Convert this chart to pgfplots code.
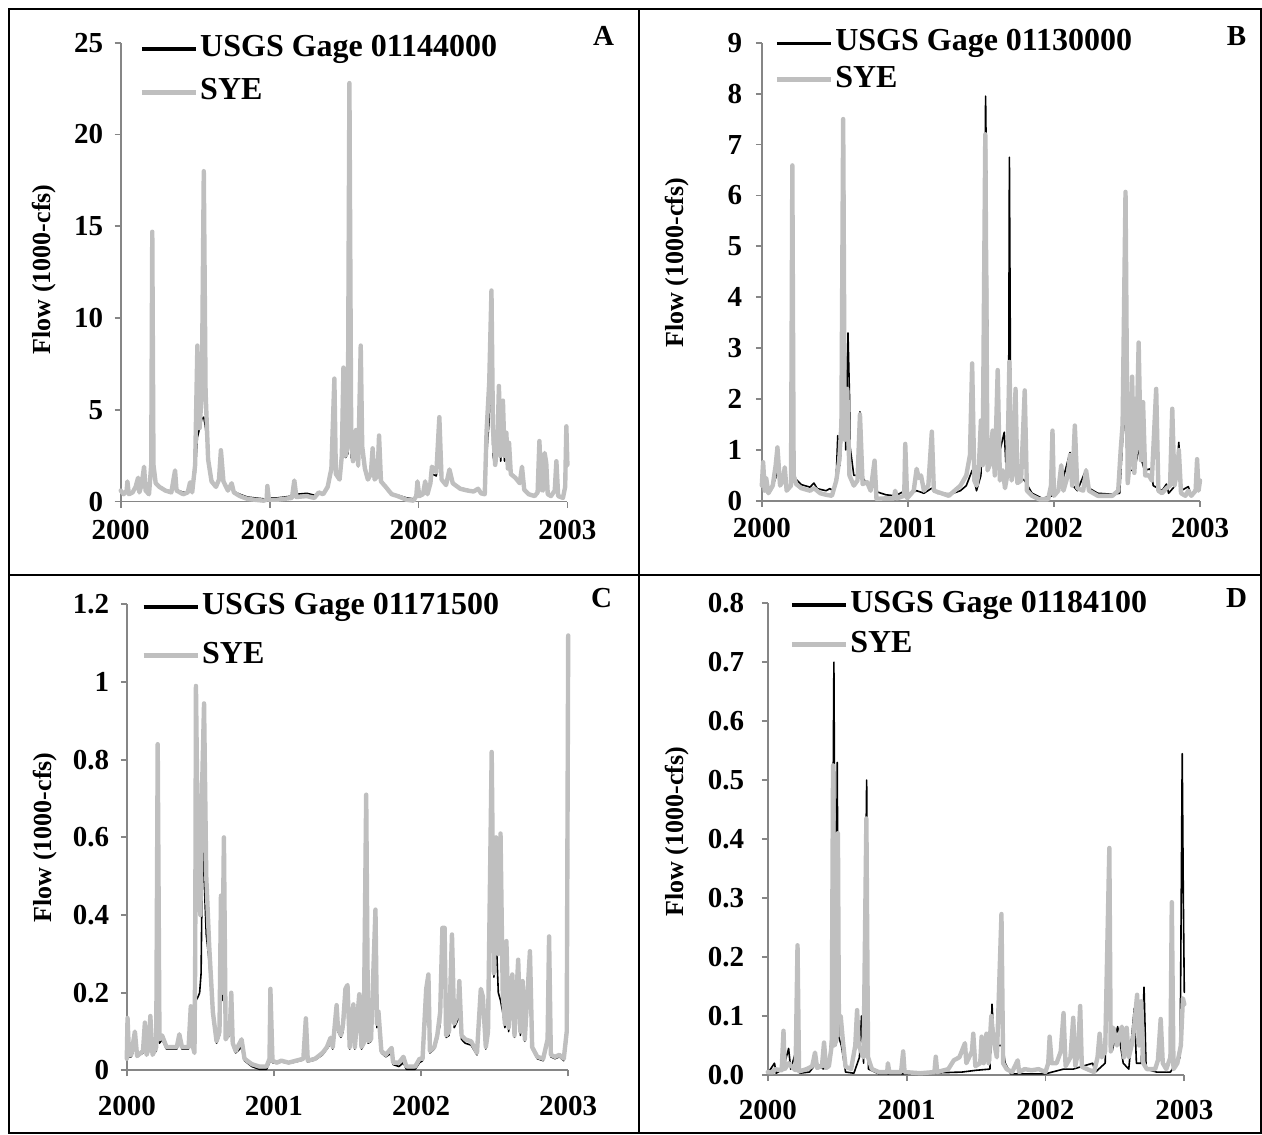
\documentclass[border=0pt]{standalone}
\usepackage{fontspec}
\setmainfont{Liberation Serif}
\usepackage{pgfplots}
\pgfplotsset{compat=1.18}
\definecolor{sye}{RGB}{191,191,191}
\definecolor{axgray}{RGB}{134,134,134}
\pgfplotsset{
  panel/.style={
    scale only axis, anchor=south west,
    xmin=2000, xmax=2003, ymin=0,
    axis x line*=bottom, axis y line*=left,
    axis line style={draw=axgray, line width=0.9pt, -},
    tick style={draw=axgray, line width=0.9pt},
    tick align=outside, major tick length=3pt,
    xtick={2000,2001,2002,2003}, xticklabels={2000,2001,2002,2003},
    ticklabel style={font=\fontsize{14.5}{14.5}\selectfont\bfseries},
    ylabel={Flow (1000-cfs)},
    ylabel style={font=\fontsize{13}{13}\selectfont\bfseries, anchor=center},
    legend style={draw=none, fill=none, anchor=north west,
      font=\fontsize{16}{16}\selectfont\bfseries, inner sep=0pt, column sep=1pt,
      nodes={inner sep=0pt, text height=11pt, text depth=3.5pt}, cells={anchor=west}},
    legend image code/.code={\draw[##1] (0pt,0pt) -- (27pt,0pt);},
    clip=false,
  },
  gage/.style={black, line width=0.8pt, line join=round, line cap=round},
  syeline/.style={sye, line width=2.2pt, line join=round, line cap=round},
}
\begin{document}
\begin{tikzpicture}
\useasboundingbox (0,0) rectangle (631pt,567pt);
% ---------------- Panel A
\begin{axis}[panel, at={(60.35pt,316.2pt)}, width=223.35pt, height=229.45pt,
  ymax=25, ytick={0,5,10,15,20,25}, yticklabels={0,5,10,15,20,25},
  yticklabel style={xshift=-2.3pt}, xticklabel style={yshift=-2.6pt},
  ylabel style={at={(axis description cs:-0.172,0.506)}},
  legend style={at={(axis description cs:0.041,1.019)}, row sep=7.25pt}]
\addlegendimage{black, line width=1.8pt}
\addlegendimage{sye, line width=2.4pt}
\addplot[gage, forget plot] coordinates {
(2000.000,0.6) (2000.020,0.45) (2000.040,0.6) (2000.045,0.9) (2000.055,0.5) (2000.080,0.55)
(2000.100,0.7) (2000.117,1.0) (2000.125,0.55) (2000.140,0.8) (2000.157,1.5) (2000.167,0.7)
(2000.190,0.5) (2000.205,1.5) (2000.212,9.0) (2000.220,1.8) (2000.235,1.0) (2000.260,0.85)
(2000.300,0.65) (2000.340,0.55) (2000.365,1.3) (2000.375,0.65) (2000.420,0.5) (2000.450,0.55)
(2000.466,0.9) (2000.480,0.6) (2000.500,1.5) (2000.515,3.5) (2000.530,4.0) (2000.545,4.5)
(2000.558,4.6) (2000.570,4.0) (2000.587,2.5) (2000.610,1.2) (2000.640,0.85) (2000.660,1.1)
(2000.673,2.2) (2000.690,1.1) (2000.720,0.65) (2000.745,0.9) (2000.760,0.55) (2000.800,0.4)
(2000.850,0.25) (2000.900,0.2) (2000.960,0.15) (2000.980,0.15) (2000.985,0.5) (2000.995,0.2)
(2001.050,0.2) (2001.100,0.25) (2001.150,0.3) (2001.166,0.8) (2001.180,0.4) (2001.250,0.45)
(2001.300,0.35) (2001.330,0.5) (2001.360,0.45) (2001.390,0.8) (2001.415,1.6) (2001.435,4.5)
(2001.445,1.5) (2001.470,1.2) (2001.485,2.2) (2001.496,5.0) (2001.510,2.4) (2001.525,2.6)
(2001.536,15.0) (2001.548,2.4) (2001.560,2.2) (2001.580,3.0) (2001.595,1.9) (2001.612,6.0)
(2001.622,2.5) (2001.640,1.7) (2001.660,1.2) (2001.680,1.4) (2001.692,2.2) (2001.705,1.2)
(2001.725,1.3) (2001.735,2.6) (2001.748,1.1) (2001.780,0.8) (2001.820,0.45) (2001.860,0.35)
(2001.920,0.2) (2001.966,0.15) (2001.985,0.3) (2001.993,0.7) (2002.005,0.35) (2002.030,0.4)
(2002.045,0.8) (2002.060,0.45) (2002.080,0.9) (2002.090,1.5) (2002.120,1.4) (2002.140,3.5)
(2002.155,1.2) (2002.185,0.9) (2002.208,1.4) (2002.230,1.0) (2002.280,0.75) (2002.330,0.65)
(2002.370,0.6) (2002.400,0.65) (2002.420,0.5) (2002.445,0.45) (2002.457,2.5) (2002.475,4.5)
(2002.490,8.0) (2002.500,2.5) (2002.515,2.0) (2002.530,2.5) (2002.540,4.5) (2002.552,2.2)
(2002.567,4.0) (2002.578,2.2) (2002.590,2.8) (2002.600,1.8) (2002.608,2.5) (2002.620,1.5)
(2002.650,1.3) (2002.680,1.0) (2002.695,1.5) (2002.710,0.7) (2002.740,0.45) (2002.780,0.35)
(2002.800,0.5) (2002.812,2.5) (2002.825,0.7) (2002.835,0.6) (2002.847,2.0) (2002.858,1.6)
(2002.868,0.45) (2002.890,0.35) (2002.915,0.55) (2002.926,1.6) (2002.938,0.35) (2002.970,0.25)
(2002.985,0.6) (2002.993,3.0) (2003.000,2.0)
};
\addplot[syeline, forget plot] coordinates {
(2000.000,0.6) (2000.020,0.4) (2000.040,0.6) (2000.045,1.1) (2000.055,0.4) (2000.080,0.5)
(2000.100,0.8) (2000.117,1.3) (2000.125,0.5) (2000.140,0.9) (2000.157,1.9) (2000.167,0.6)
(2000.190,0.4) (2000.205,2.0) (2000.212,14.7) (2000.220,2.0) (2000.235,1.0) (2000.260,0.8)
(2000.300,0.6) (2000.340,0.5) (2000.365,1.7) (2000.375,0.6) (2000.420,0.4) (2000.450,0.5)
(2000.466,1.05) (2000.480,0.5) (2000.500,2.0) (2000.515,8.5) (2000.530,4.0) (2000.545,6.0)
(2000.558,18.0) (2000.570,6.0) (2000.587,2.3) (2000.610,1.1) (2000.640,0.8) (2000.660,1.2)
(2000.673,2.8) (2000.690,1.1) (2000.720,0.6) (2000.745,1.0) (2000.760,0.5) (2000.800,0.3)
(2000.850,0.15) (2000.900,0.1) (2000.960,0.05) (2000.980,0.1) (2000.985,0.85) (2000.995,0.1)
(2001.050,0.1) (2001.100,0.15) (2001.150,0.2) (2001.166,1.15) (2001.180,0.25) (2001.250,0.3)
(2001.300,0.2) (2001.330,0.5) (2001.360,0.4) (2001.390,0.8) (2001.415,1.8) (2001.435,6.7)
(2001.445,1.5) (2001.470,1.2) (2001.485,2.5) (2001.496,7.3) (2001.510,2.5) (2001.525,3.0)
(2001.536,22.8) (2001.548,3.5) (2001.560,2.2) (2001.580,3.9) (2001.595,2.0) (2001.612,8.5)
(2001.622,3.0) (2001.640,1.8) (2001.660,1.2) (2001.680,1.5) (2001.692,2.9) (2001.705,1.2)
(2001.725,1.4) (2001.735,3.6) (2001.748,1.1) (2001.780,0.8) (2001.820,0.4) (2001.860,0.3)
(2001.920,0.1) (2001.966,0.05) (2001.985,0.3) (2001.993,1.1) (2002.005,0.3) (2002.030,0.4)
(2002.045,1.1) (2002.060,0.4) (2002.080,1.0) (2002.090,1.9) (2002.120,1.6) (2002.140,4.6)
(2002.155,1.2) (2002.185,0.9) (2002.208,1.75) (2002.230,1.0) (2002.280,0.7) (2002.330,0.6)
(2002.370,0.55) (2002.400,0.7) (2002.420,0.45) (2002.445,0.4) (2002.457,3.8) (2002.475,6.5)
(2002.490,11.5) (2002.500,4.0) (2002.515,2.0) (2002.530,3.0) (2002.540,6.3) (2002.552,2.5)
(2002.567,5.5) (2002.578,2.5) (2002.590,3.75) (2002.600,1.8) (2002.608,3.2) (2002.620,1.5)
(2002.650,1.3) (2002.680,1.0) (2002.695,1.9) (2002.710,0.65) (2002.740,0.4) (2002.780,0.3)
(2002.800,0.5) (2002.812,3.3) (2002.825,0.65) (2002.835,0.6) (2002.847,2.65) (2002.858,2.1)
(2002.868,0.4) (2002.890,0.3) (2002.915,0.6) (2002.926,2.2) (2002.938,0.3) (2002.970,0.2)
(2002.985,0.8) (2002.993,4.1) (2003.000,2.0)
};
\legend{USGS Gage 01144000, SYE}
\end{axis}
% ---------------- Panel B
\begin{axis}[panel, at={(380.9pt,316.55pt)}, width=219.1pt, height=229.1pt,
  ymax=9, ytick={0,1,2,3,4,5,6,7,8,9}, yticklabels={0,1,2,3,4,5,6,7,8,9},
  yticklabel style={xshift=-3.3pt}, xticklabel style={yshift=-2.3pt},
  ylabel style={at={(axis description cs:-0.194,0.52)}},
  legend style={at={(axis description cs:0.028,1.031)}, row sep=3.6pt}]
\addlegendimage{black, line width=1.8pt}
\addlegendimage{sye, line width=2.4pt}
\addplot[gage, forget plot] coordinates {
(2000.000,0.3) (2000.009,0.5) (2000.020,0.3) (2000.030,0.35) (2000.045,0.25) (2000.075,0.3)
(2000.095,0.45) (2000.107,0.7) (2000.125,0.35) (2000.145,0.35) (2000.157,0.45) (2000.170,0.3)
(2000.200,0.3) (2000.209,0.5) (2000.215,2.3) (2000.222,0.5) (2000.235,0.42) (2000.270,0.32)
(2000.330,0.27) (2000.357,0.35) (2000.380,0.24) (2000.440,0.2) (2000.465,0.24) (2000.490,0.2)
(2000.510,0.5) (2000.520,1.28) (2000.535,0.7) (2000.545,1.2) (2000.557,5.0) (2000.562,7.05)
(2000.575,1.0) (2000.590,3.3) (2000.600,2.1) (2000.605,1.05) (2000.630,0.5) (2000.655,0.5)
(2000.672,1.75) (2000.690,0.45) (2000.720,0.35) (2000.745,0.25) (2000.772,0.3) (2000.785,0.18)
(2000.850,0.12) (2000.913,0.1) (2000.982,0.2) (2000.995,0.12) (2001.060,0.2) (2001.110,0.15)
(2001.164,0.25) (2001.200,0.15) (2001.300,0.14) (2001.360,0.2) (2001.400,0.3) (2001.440,0.6)
(2001.470,0.2) (2001.500,0.5) (2001.525,3.0) (2001.532,7.95) (2001.540,5.97) (2001.550,0.9)
(2001.580,0.7) (2001.615,0.8) (2001.660,1.35) (2001.675,0.5) (2001.690,2.0) (2001.695,6.75)
(2001.705,1.0) (2001.740,0.5) (2001.800,0.4) (2001.850,0.15) (2001.920,0.05) (2001.990,0.1)
(2002.050,0.3) (2002.110,0.95) (2002.130,0.3) (2002.160,0.2) (2002.220,0.62) (2002.240,0.25)
(2002.300,0.15) (2002.400,0.13) (2002.450,0.15) (2002.470,1.2) (2002.490,1.8) (2002.510,0.6)
(2002.550,0.6) (2002.580,1.0) (2002.620,0.6) (2002.660,0.63) (2002.680,0.3) (2002.740,0.2)
(2002.770,0.33) (2002.785,0.15) (2002.830,0.3) (2002.855,1.15) (2002.870,0.2) (2002.920,0.28)
(2002.940,0.1) (2002.980,0.3) (2003.000,0.3)
};
\addplot[syeline, forget plot] coordinates {
(2000.000,0.3) (2000.009,0.76) (2000.020,0.2) (2000.030,0.45) (2000.045,0.15) (2000.075,0.3)
(2000.095,0.7) (2000.107,1.05) (2000.125,0.3) (2000.145,0.4) (2000.157,0.66) (2000.170,0.2)
(2000.200,0.3) (2000.209,6.59) (2000.218,0.5) (2000.235,0.33) (2000.270,0.25) (2000.330,0.2)
(2000.357,0.25) (2000.400,0.15) (2000.440,0.12) (2000.480,0.1) (2000.510,0.4) (2000.530,0.8)
(2000.545,1.5) (2000.557,7.5) (2000.568,1.2) (2000.585,2.2) (2000.600,0.5) (2000.630,0.3)
(2000.655,0.4) (2000.672,1.7) (2000.690,0.33) (2000.720,0.37) (2000.745,0.2) (2000.772,0.79)
(2000.785,0.04) (2000.850,0.05) (2000.905,0.05) (2000.913,0.2) (2000.925,0.05) (2000.975,0.1)
(2000.982,1.12) (2000.995,0.05) (2001.040,0.2) (2001.060,0.63) (2001.075,0.45) (2001.090,0.5)
(2001.110,0.2) (2001.140,0.3) (2001.164,1.36) (2001.178,0.2) (2001.230,0.15) (2001.280,0.1)
(2001.320,0.2) (2001.360,0.3) (2001.400,0.5) (2001.425,0.9) (2001.440,2.7) (2001.455,0.4)
(2001.470,0.3) (2001.485,0.6) (2001.500,1.58) (2001.512,0.7) (2001.530,7.2) (2001.545,0.6)
(2001.560,0.7) (2001.580,1.38) (2001.595,0.5) (2001.615,2.57) (2001.630,0.4) (2001.650,0.6)
(2001.665,0.25) (2001.680,0.5) (2001.695,2.73) (2001.710,0.4) (2001.725,0.6) (2001.737,2.2)
(2001.750,0.35) (2001.775,0.4) (2001.800,2.17) (2001.815,0.2) (2001.850,0.1) (2001.900,0.03)
(2001.960,0.03) (2001.980,0.3) (2001.990,1.38) (2002.000,0.1) (2002.030,0.2) (2002.050,0.7)
(2002.065,0.2) (2002.095,0.5) (2002.110,0.9) (2002.125,0.3) (2002.143,1.48) (2002.160,0.25)
(2002.200,0.2) (2002.220,0.6) (2002.240,0.2) (2002.300,0.1) (2002.400,0.1) (2002.440,0.2)
(2002.457,1.0) (2002.470,1.5) (2002.490,6.07) (2002.505,0.35) (2002.520,0.8) (2002.535,2.44)
(2002.550,0.55) (2002.565,1.2) (2002.580,3.11) (2002.595,0.8) (2002.610,1.94) (2002.625,0.5)
(2002.650,0.5) (2002.670,0.4) (2002.700,2.2) (2002.715,0.2) (2002.740,0.15) (2002.770,0.25)
(2002.795,0.3) (2002.810,1.81) (2002.825,0.3) (2002.845,0.6) (2002.855,1.0) (2002.870,0.15)
(2002.900,0.1) (2002.920,0.2) (2002.940,0.1) (2002.970,0.2) (2002.980,0.82) (2002.990,0.2)
(2003.000,0.4)
};
\legend{USGS Gage 01130000, SYE}
\end{axis}
% ---------------- Panel C
\begin{axis}[panel, at={(63.4pt,31.8pt)}, width=220.7pt, height=233pt,
  ymax=1.2, ytick={0,0.2,0.4,0.6,0.8,1,1.2}, yticklabels={0,0.2,0.4,0.6,0.8,1,1.2},
  yticklabel style={xshift=-2.3pt}, xticklabel style={yshift=-6.5pt},
  ylabel style={at={(axis description cs:-0.184,0.5)}},
  legend style={at={(axis description cs:0.032,1.027)}, row sep=9.9pt}]
\addlegendimage{black, line width=1.8pt}
\addlegendimage{sye, line width=2.4pt}
\addplot[gage, forget plot] coordinates {
(2000.000,0.03) (2000.005,0.06) (2000.015,0.035) (2000.030,0.035) (2000.055,0.06) (2000.070,0.035)
(2000.110,0.045) (2000.123,0.08) (2000.135,0.04) (2000.150,0.05) (2000.160,0.09) (2000.175,0.04)
(2000.200,0.05) (2000.210,0.4) (2000.222,0.07) (2000.240,0.08) (2000.270,0.055) (2000.310,0.055)
(2000.340,0.055) (2000.357,0.08) (2000.375,0.055) (2000.420,0.055) (2000.435,0.12) (2000.450,0.055)
(2000.460,0.05) (2000.470,0.18) (2000.485,0.19) (2000.495,0.2) (2000.505,0.25) (2000.515,0.6)
(2000.525,0.5) (2000.540,0.35) (2000.560,0.28) (2000.585,0.14) (2000.610,0.07) (2000.630,0.09)
(2000.640,0.3) (2000.648,0.18) (2000.660,0.45) (2000.672,0.08) (2000.700,0.09) (2000.710,0.15)
(2000.720,0.065) (2000.740,0.045) (2000.780,0.06) (2000.800,0.025) (2000.850,0.01) (2000.900,0.003)
(2000.950,0.003) (2000.970,0.02) (2000.976,0.12) (2000.990,0.02) (2001.020,0.018) (2001.050,0.022)
(2001.100,0.018) (2001.150,0.022) (2001.200,0.027) (2001.217,0.09) (2001.230,0.022) (2001.280,0.027)
(2001.330,0.04) (2001.360,0.055) (2001.385,0.07) (2001.400,0.055) (2001.426,0.13) (2001.435,0.1)
(2001.455,0.085) (2001.470,0.1) (2001.486,0.17) (2001.500,0.18) (2001.515,0.055) (2001.540,0.14)
(2001.550,0.055) (2001.580,0.16) (2001.595,0.055) (2001.610,0.065) (2001.627,0.5) (2001.640,0.07)
(2001.660,0.075) (2001.690,0.3) (2001.700,0.11) (2001.710,0.13) (2001.730,0.045) (2001.760,0.035)
(2001.800,0.045) (2001.810,0.015) (2001.850,0.01) (2001.880,0.02) (2001.900,0.003) (2001.960,0.003)
(2001.990,0.02) (2002.010,0.025) (2002.035,0.15) (2002.050,0.2) (2002.060,0.045) (2002.090,0.055)
(2002.110,0.08) (2002.130,0.12) (2002.145,0.3) (2002.160,0.3) (2002.170,0.085) (2002.190,0.09)
(2002.210,0.28) (2002.225,0.11) (2002.250,0.13) (2002.260,0.19) (2002.275,0.08) (2002.300,0.07)
(2002.340,0.065) (2002.380,0.04) (2002.406,0.17) (2002.420,0.16) (2002.440,0.055) (2002.455,0.09)
(2002.480,0.5) (2002.495,0.24) (2002.510,0.35) (2002.525,0.2) (2002.540,0.18) (2002.555,0.15)
(2002.570,0.11) (2002.580,0.25) (2002.595,0.1) (2002.620,0.2) (2002.635,0.085) (2002.660,0.22)
(2002.675,0.09) (2002.690,0.18) (2002.705,0.075) (2002.740,0.25) (2002.755,0.055) (2002.790,0.03)
(2002.830,0.025) (2002.860,0.07) (2002.870,0.25) (2002.882,0.035) (2002.910,0.03) (2002.940,0.035)
(2002.970,0.025) (2002.990,0.08) (2003.000,0.57)
};
\addplot[syeline, forget plot] coordinates {
(2000.000,0.03) (2000.005,0.135) (2000.015,0.04) (2000.030,0.04) (2000.055,0.10) (2000.070,0.037)
(2000.110,0.05) (2000.123,0.123) (2000.135,0.04) (2000.150,0.06) (2000.160,0.14) (2000.175,0.04)
(2000.200,0.06) (2000.210,0.84) (2000.222,0.08) (2000.240,0.09) (2000.270,0.06) (2000.310,0.06)
(2000.340,0.06) (2000.357,0.093) (2000.375,0.06) (2000.420,0.06) (2000.435,0.165) (2000.450,0.06)
(2000.460,0.045) (2000.465,0.3) (2000.470,0.99) (2000.485,0.5) (2000.500,0.4) (2000.510,0.7)
(2000.525,0.945) (2000.540,0.5) (2000.560,0.32) (2000.585,0.15) (2000.610,0.075) (2000.630,0.1)
(2000.640,0.45) (2000.648,0.2) (2000.660,0.6) (2000.672,0.08) (2000.700,0.1) (2000.710,0.2)
(2000.720,0.07) (2000.740,0.05) (2000.780,0.08) (2000.800,0.03) (2000.850,0.016) (2000.900,0.01)
(2000.950,0.01) (2000.970,0.03) (2000.976,0.21) (2000.990,0.025) (2001.020,0.02) (2001.050,0.025)
(2001.100,0.02) (2001.150,0.025) (2001.200,0.03) (2001.217,0.134) (2001.230,0.025) (2001.280,0.03)
(2001.330,0.045) (2001.360,0.06) (2001.385,0.084) (2001.400,0.06) (2001.426,0.168) (2001.435,0.11)
(2001.455,0.09) (2001.470,0.12) (2001.486,0.21) (2001.500,0.22) (2001.515,0.06) (2001.540,0.17)
(2001.550,0.06) (2001.580,0.196) (2001.595,0.06) (2001.610,0.07) (2001.627,0.71) (2001.640,0.075)
(2001.660,0.08) (2001.690,0.414) (2001.700,0.12) (2001.710,0.153) (2001.730,0.05) (2001.760,0.04)
(2001.800,0.058) (2001.810,0.02) (2001.850,0.02) (2001.880,0.035) (2001.900,0.01) (2001.960,0.01)
(2001.990,0.03) (2002.010,0.03) (2002.035,0.21) (2002.050,0.247) (2002.060,0.05) (2002.090,0.06)
(2002.110,0.09) (2002.130,0.15) (2002.145,0.367) (2002.160,0.367) (2002.170,0.09) (2002.190,0.1)
(2002.210,0.35) (2002.225,0.12) (2002.250,0.15) (2002.260,0.23) (2002.275,0.09) (2002.300,0.08)
(2002.340,0.075) (2002.380,0.045) (2002.406,0.21) (2002.420,0.19) (2002.440,0.06) (2002.455,0.1)
(2002.480,0.82) (2002.495,0.25) (2002.510,0.6) (2002.525,0.3) (2002.540,0.61) (2002.555,0.2)
(2002.570,0.12) (2002.580,0.333) (2002.595,0.11) (2002.620,0.247) (2002.635,0.09) (2002.660,0.285)
(2002.675,0.1) (2002.690,0.23) (2002.705,0.08) (2002.740,0.307) (2002.755,0.06) (2002.790,0.035)
(2002.830,0.03) (2002.860,0.08) (2002.870,0.345) (2002.882,0.04) (2002.910,0.035) (2002.940,0.04)
(2002.970,0.03) (2002.990,0.1) (2003.000,1.12)
};
\legend{USGS Gage 01171500, SYE}
\end{axis}
% ---------------- Panel D
\begin{axis}[panel, at={(383.9pt,29.5pt)}, width=208.25pt, height=235.9pt,
  ymax=0.8, ytick={0,0.1,0.2,0.3,0.4,0.5,0.6,0.7,0.8},
  yticklabels={0.0,0.1,0.2,0.3,0.4,0.5,0.6,0.7,0.8},
  yticklabel style={xshift=-5.3pt}, xticklabel style={yshift=-6pt},
  ylabel style={at={(axis description cs:-0.217,0.516)}},
  legend style={at={(axis description cs:0.051,1.028)}, row sep=5.4pt}]
\addlegendimage{black, line width=1.8pt}
\addlegendimage{sye, line width=2.4pt}
\addplot[gage, forget plot] coordinates {
(2000.000,0.003) (2000.048,0.02) (2000.060,0.003) (2000.110,0.01) (2000.150,0.045) (2000.165,0.01)
(2000.214,0.05) (2000.230,0.003) (2000.300,0.005) (2000.350,0.02) (2000.400,0.01) (2000.440,0.02)
(2000.460,0.07) (2000.476,0.7) (2000.490,0.05) (2000.500,0.53) (2000.510,0.065) (2000.530,0.05)
(2000.560,0.005) (2000.620,0.003) (2000.660,0.03) (2000.675,0.1) (2000.690,0.02) (2000.712,0.5)
(2000.725,0.01) (2000.800,0.002) (2001.000,0.002) (2001.400,0.005) (2001.500,0.008) (2001.600,0.01)
(2001.615,0.12) (2001.630,0.05) (2001.690,0.05) (2001.710,0.02) (2001.750,0.002) (2002.000,0.002)
(2002.130,0.01) (2002.200,0.01) (2002.340,0.02) (2002.360,0.005) (2002.430,0.02) (2002.445,0.145)
(2002.460,0.1) (2002.480,0.04) (2002.520,0.082) (2002.560,0.02) (2002.600,0.01) (2002.640,0.113)
(2002.655,0.02) (2002.690,0.02) (2002.710,0.149) (2002.725,0.01) (2002.800,0.005) (2002.900,0.005)
(2002.970,0.03) (2002.985,0.545) (2002.993,0.3) (2003.000,0.14)
};
\addplot[syeline, forget plot] coordinates {
(2000.000,0.005) (2000.040,0.005) (2000.048,0.01) (2000.100,0.008) (2000.113,0.075) (2000.122,0.01)
(2000.150,0.02) (2000.200,0.008) (2000.214,0.22) (2000.225,0.006) (2000.280,0.01) (2000.320,0.015)
(2000.340,0.038) (2000.355,0.012) (2000.390,0.015) (2000.405,0.055) (2000.420,0.012) (2000.440,0.015)
(2000.460,0.05) (2000.470,0.525) (2000.480,0.05) (2000.495,0.06) (2000.505,0.41) (2000.512,0.09)
(2000.525,0.1) (2000.540,0.06) (2000.560,0.014) (2000.600,0.01) (2000.630,0.05) (2000.643,0.11)
(2000.655,0.05) (2000.690,0.03) (2000.710,0.435) (2000.722,0.03) (2000.750,0.01) (2000.800,0.005)
(2000.860,0.005) (2000.865,0.02) (2000.875,0.005) (2000.960,0.005) (2000.975,0.04) (2000.985,0.005)
(2001.100,0.003) (2001.200,0.005) (2001.210,0.031) (2001.220,0.005) (2001.300,0.01) (2001.340,0.025)
(2001.380,0.03) (2001.420,0.054) (2001.430,0.02) (2001.470,0.04) (2001.480,0.07) (2001.495,0.015)
(2001.530,0.02) (2001.540,0.065) (2001.555,0.02) (2001.575,0.07) (2001.590,0.02) (2001.610,0.1)
(2001.625,0.06) (2001.650,0.03) (2001.683,0.273) (2001.695,0.02) (2001.720,0.01) (2001.760,0.005)
(2001.800,0.025) (2001.810,0.005) (2001.850,0.01) (2001.900,0.008) (2001.950,0.01) (2002.000,0.005)
(2002.020,0.02) (2002.030,0.065) (2002.045,0.02) (2002.080,0.02) (2002.110,0.04) (2002.130,0.105)
(2002.145,0.015) (2002.180,0.03) (2002.200,0.097) (2002.215,0.015) (2002.235,0.04) (2002.250,0.117)
(2002.262,0.014) (2002.300,0.01) (2002.350,0.005) (2002.375,0.03) (2002.390,0.07) (2002.405,0.03)
(2002.430,0.04) (2002.460,0.385) (2002.470,0.04) (2002.490,0.08) (2002.515,0.05) (2002.550,0.082)
(2002.565,0.03) (2002.585,0.08) (2002.600,0.03) (2002.630,0.06) (2002.660,0.136) (2002.675,0.05)
(2002.690,0.125) (2002.705,0.02) (2002.730,0.01) (2002.790,0.01) (2002.810,0.025) (2002.830,0.095)
(2002.845,0.02) (2002.870,0.01) (2002.900,0.03) (2002.910,0.293) (2002.922,0.01) (2002.950,0.02)
(2002.975,0.05) (2002.990,0.13) (2003.000,0.12)
};
\legend{USGS Gage 01184100, SYE}
\end{axis}
% ---------------- frame and panel letters
\draw[line width=1.2pt] (4.5pt,0.6pt) rectangle (630.4pt,562.5pt);
\draw[line width=1.2pt] (319.5pt,0.6pt) -- (319.5pt,562.5pt);
\draw[line width=1.2pt] (4.5pt,279.5pt) -- (630.4pt,279.5pt);
\node[font=\fontsize{14.5}{14.5}\selectfont\bfseries] at (301.8pt,549pt) {A};
\node[font=\fontsize{14.5}{14.5}\selectfont\bfseries] at (618.3pt,549pt) {B};
\node[font=\fontsize{14.5}{14.5}\selectfont\bfseries] at (300.8pt,268.15pt) {C};
\node[font=\fontsize{14.5}{14.5}\selectfont\bfseries] at (618.3pt,268pt) {D};
\end{tikzpicture}
\end{document}
